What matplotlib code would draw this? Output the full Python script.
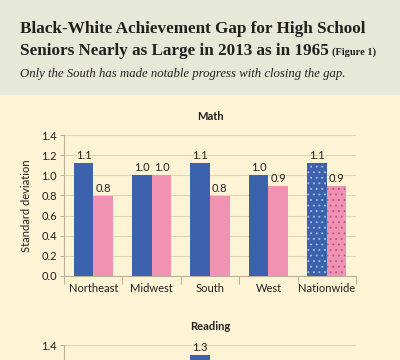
import numpy as np
import matplotlib
matplotlib.use("Agg")
import matplotlib.pyplot as plt
from matplotlib.patches import Rectangle

regions = ["Northeast", "Midwest", "South", "West", "Nationwide"]
math_1965 = [1.12, 1.00, 1.12, 1.00, 1.12]
math_2013 = [0.79, 1.00, 0.79, 0.89, 0.89]
math_lbl_1965 = ["1.1", "1.0", "1.1", "1.0", "1.1"]
math_lbl_2013 = ["0.8", "1.0", "0.8", "0.9", "0.9"]
read_1965 = [1.05, 1.10, 1.30, 1.00, 1.10]
read_2013 = [0.85, 0.95, 0.80, 0.90, 0.90]
read_lbl_1965 = ["1.1", "1.1", "1.3", "1.0", "1.1"]
read_lbl_2013 = ["0.9", "1.0", "0.8", "0.9", "0.9"]
yticks = [0.0, 0.2, 0.4, 0.6, 0.8, 1.0, 1.2, 1.4]

BLUE = "#3d62ad"; PINK = "#f292b3"
HEAD = "#e6e8d8"; CREAM = "#fdf4d6"
GRID = "#e2d7b0"; SPINE = "#b9b19a"; TXT = "#231f20"
SANS = "Lato"
FS = 8

plt.rcParams["hatch.linewidth"] = 0.6
fig = plt.figure(figsize=(4, 3.6), dpi=100, facecolor=CREAM)
fig.patches.append(Rectangle((0, 1 - 95 / 360), 1, 95 / 360, transform=fig.transFigure,
                             facecolor=HEAD, edgecolor="none", zorder=0))
fig.text(20 / 400, 1 - 33 / 360, "Black-White Achievement Gap for High School",
         family="Liberation Serif", weight="bold", fontsize=12.3, color=TXT, va="baseline")
t2 = fig.text(20 / 400, 1 - 55 / 360, "Seniors Nearly as Large in 2013 as in 1965",
              family="Liberation Serif", weight="bold", fontsize=12.3, color=TXT, va="baseline")
fig.canvas.draw()
bb = t2.get_window_extent()
fig.text((bb.x1 + 3) / 400, 1 - 55 / 360, "(Figure 1)", family="Liberation Serif", weight="bold",
         fontsize=7.5, color=TXT, va="baseline")
fig.text(20 / 400, 1 - 77 / 360, "Only the South has made notable progress with closing the gap.",
         family="Liberation Serif", style="italic", fontsize=9.2, color=TXT, va="baseline")


def panel(ax, title, v1, v2, l1, l2):
    ax.set_facecolor(CREAM)
    x = np.arange(len(regions))
    w = 0.335
    for i in range(len(regions)):
        nat = regions[i] == "Nationwide"
        ax.bar(x[i] - w / 2, v1[i], w, color=BLUE, zorder=3,
               hatch="..." if nat else None, edgecolor="#a9bde6" if nat else BLUE, linewidth=0)
        ax.bar(x[i] + w / 2, v2[i], w, color=PINK, zorder=3,
               hatch="..." if nat else None, edgecolor="#b05a86" if nat else PINK, linewidth=0)
        ax.text(x[i] - w / 2, v1[i] + 0.025, l1[i], ha="center", va="bottom", fontsize=FS,
                family=SANS, color=TXT)
        ax.text(x[i] + w / 2, v2[i] + 0.025, l2[i], ha="center", va="bottom", fontsize=FS,
                family=SANS, color=TXT)
    ax.set_xlim(-0.5, len(regions) - 0.5)
    ax.set_ylim(0, 1.4)
    ax.set_yticks(yticks)
    ax.set_yticklabels([f"{t:.1f}" for t in yticks], family=SANS, fontsize=FS, color=TXT)
    ax.set_xticks(x)
    ax.set_xticklabels(regions, family=SANS, fontsize=FS, color=TXT)
    ax.set_xticks(np.arange(len(regions) + 1) - 0.5, minor=True)
    ax.tick_params(axis="x", which="major", length=0, pad=5)
    ax.tick_params(axis="x", which="minor", length=6, color=SPINE, width=0.7)
    ax.tick_params(axis="y", length=3, color=SPINE, width=0.7, pad=2)
    ax.grid(axis="y", color=GRID, linewidth=0.8, zorder=0)
    for s in ["top", "right"]:
        ax.spines[s].set_visible(False)
    for s in ["left", "bottom"]:
        ax.spines[s].set_color(SPINE)
        ax.spines[s].set_linewidth(0.8)
    ax.set_title(title, family=SANS, weight="bold", fontsize=FS, color=TXT, pad=11)


ax1 = fig.add_axes([64 / 400, 1 - 276 / 360, 292 / 400, 141 / 360])
panel(ax1, "Math", math_1965, math_2013, math_lbl_1965, math_lbl_2013)
ax1.set_ylabel("Standard deviation", family=SANS, fontsize=FS, color=TXT, labelpad=7)

# the Reading panel runs off the bottom of the page, as in the source image
ax2 = fig.add_axes([64 / 400, 1 - 486 / 360, 292 / 400, 141 / 360])
panel(ax2, "Reading", read_1965, read_2013, read_lbl_1965, read_lbl_2013)

fig.canvas.draw()
r = fig.canvas.get_renderer()
for t in list(ax2.texts) + ax2.get_xticklabels() + ax2.get_yticklabels():
    if t.get_window_extent(r).y0 < 1:
        t.set_visible(False)

fig.savefig("out.png", dpi=100, facecolor=CREAM)
